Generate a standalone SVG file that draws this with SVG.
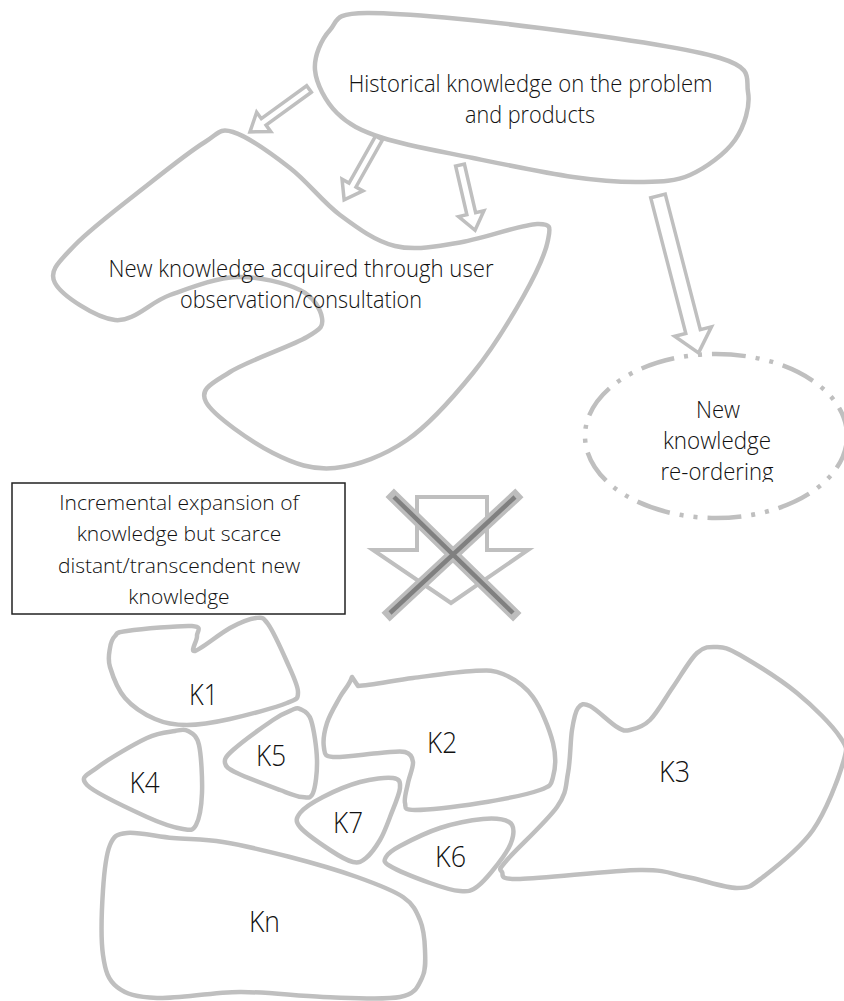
<svg xmlns="http://www.w3.org/2000/svg" width="844" height="1001" viewBox="0 0 844 1001">
<defs>
<style>
.blob{fill:none;stroke:#bfbfbf;stroke-width:4.5;stroke-linejoin:round}
.blk{fill:#fff;stroke:#bfbfbf;stroke-width:3.5;stroke-linejoin:miter}
.t{font-family:"Open Sans",Lato,"Liberation Sans",sans-serif;font-weight:300;fill:#111;text-anchor:middle}
.m{font-size:23px}
.s{font-size:21px}
.k{font-size:29px}
</style>
<clipPath id="clipRe"><rect x="600" y="455" width="220" height="27"/></clipPath>
</defs>
<rect width="844" height="1001" fill="#fff"/>

<g id="historical">
<path class="blob" d="M367,13 C402,12.7 481.2,20.5 540,28 S685.3,47.3 720,58 S745.5,78.3 748,92 S744.7,126.2 735,140 S705.8,168 690,175 S659.5,181.7 640,182 S600.8,181 573,177 S504.7,164.5 473,158 S405.7,145.5 383,138 S348.3,124.3 337,113 S316.2,83.8 315,70 S321.3,39.5 330,30 S332,13.3 367,13 Z"/>
<text class="t m" x="530.5" y="92" textLength="364" lengthAdjust="spacingAndGlyphs">Historical knowledge on the problem</text>
<text class="t m" x="530" y="123" textLength="130" lengthAdjust="spacingAndGlyphs">and products</text>
</g>

<g id="new-knowledge">
<path class="blob" d="M233,132 C247.2,136.3 272.2,154.2 290,168 S322.5,202 340,215 S375.5,241.3 395,246 S433.3,246.7 457,243 S521.8,224.5 537,224 S550.3,227.8 548,240 S535.5,274.8 523,297 S492.3,349.2 473,373 S430,424.2 407,440 S357.3,465.8 335,468 S294.5,464 273,453 S213.2,415.5 206,402 S213.2,382.8 230,372 S291.7,346 307,337 S323.2,325.8 322,318 S314.2,296.8 300,290 S258.7,276.2 237,277 S190.3,287.8 170,295 S134.2,322 115,320 S61.7,295.5 55,283 S59.2,261.7 75,245 S128.3,200.2 150,183 S191.2,150.5 205,142 S218.8,127.7 233,132 Z"/>
<text class="t m" x="301" y="277" textLength="385" lengthAdjust="spacingAndGlyphs">New knowledge acquired through user</text>
<text class="t m" x="301" y="308" textLength="242" lengthAdjust="spacingAndGlyphs">observation/consultation</text>
</g>

<g id="reordering">
<ellipse cx="716" cy="436" rx="131" ry="82" fill="none" stroke="#bfbfbf" stroke-width="4.5" stroke-dasharray="34 10 4 10 4 10"/>
<text class="t m" x="718" y="418" textLength="44" lengthAdjust="spacingAndGlyphs">New</text>
<text class="t m" x="717" y="449" textLength="108" lengthAdjust="spacingAndGlyphs">knowledge</text>
<text class="t m" x="717" y="480" textLength="113" lengthAdjust="spacingAndGlyphs" clip-path="url(#clipRe)">re-ordering</text>
</g>

<g id="incremental-box">
<rect x="12" y="483" width="333" height="131" fill="#fff" stroke="#222" stroke-width="1.5"/>
<text class="t s" x="179" y="510">Incremental expansion of</text>
<text class="t s" x="179" y="541">knowledge but scarce</text>
<text class="t s" x="179" y="573">distant/transcendent new</text>
<text class="t s" x="179" y="604">knowledge</text>
</g>

<g id="crossed-arrow">
<polygon points="417,497 487,497 487,550 528,550 451,603 373,550 417,550" fill="#fff" stroke="#bfbfbf" stroke-width="4" stroke-linejoin="miter"/>
<line x1="394" y1="497" x2="513" y2="613" stroke="#bdbdbd" stroke-width="12" stroke-linecap="square"/>
<line x1="515" y1="497" x2="390" y2="613" stroke="#bdbdbd" stroke-width="12" stroke-linecap="square"/>
<line x1="394" y1="497" x2="513" y2="613" stroke="#808080" stroke-width="4.5"/>
<line x1="515" y1="497" x2="390" y2="613" stroke="#808080" stroke-width="4.5"/>
</g>

<g id="k1">
<path class="blob" d="M127,631 C139.8,629.3 180.3,625.2 192,626 S196.5,631.8 197,636 S189.5,652.3 195,651 S219.8,633.5 230,628 S249.7,618.7 256,618 S262.8,616.7 268,624 S282,650.7 287,662 S298,685.2 298,692 S298.3,698.5 287,703 S246.7,715.3 230,719 S199.5,725 187,725 S165.3,723.5 155,719 S132.5,706.7 125,698 S112.5,675.3 110,667 S109.2,653.2 110,648 S112.2,638.8 115,636 S114.2,632.7 127,631 Z"/>
<text class="t k" x="203.5" y="705" textLength="29" lengthAdjust="spacingAndGlyphs">K1</text>
</g>

<g id="k5">
<path class="blob" d="M300,709 C303.2,710.7 308.2,711.5 311,720 S316.7,747.8 317,760 S315.5,786.8 313,793 S307.5,797.5 302,797 S290.8,794 280,790 S246.2,777.5 237,773 S225.7,766.8 225,763 S225,757.2 233,750 S263.2,726.7 273,720 S287.5,711.8 292,710 S296.8,707.3 300,709 Z"/>
<text class="t k" x="271" y="766" textLength="30" lengthAdjust="spacingAndGlyphs">K5</text>
</g>

<g id="k4">
<path class="blob" d="M188,731 C192,733.3 196.7,734.7 199,745 S202.5,779.7 202,793 S199.2,819 196,825 S191.2,830.3 183,829 S163,824.3 147,817 S95.2,793.3 87,785 S88,774.8 98,767 S134.2,744 147,738 S168.2,732.2 175,731 S184,728.7 188,731 Z"/>
<text class="t k" x="144.5" y="793" textLength="30" lengthAdjust="spacingAndGlyphs">K4</text>
</g>

<g id="k2">
<path class="blob" d="M352,677 L358,686 C370,685.5 393.8,680.5 413,678 S458,671.7 473,671 S493,669.7 503,674 S524.7,685.5 533,697 S549.7,729.7 553,743 S555.2,769.2 553,777 S552.2,785.7 540,790 S500.8,799.7 480,803 S427.5,810 415,810 S406.2,807.5 405,803 S406.7,789.8 408,783 S413.5,767.2 413,762 S410.5,753.5 405,752 S392,752.2 380,753 S342.3,757.8 333,757 S325,753.7 324,748 S324.3,731.5 327,723 S335.8,704.7 340,697 S349,686 352,677 Z"/>
<text class="t k" x="442" y="753" textLength="30" lengthAdjust="spacingAndGlyphs">K2</text>
</g>

<g id="k3">
<path class="blob" d="M717,647 C724.2,647.3 726.7,647.3 740,655 S780.3,679.3 797,693 S832.3,725.3 840,737 S847.5,747.5 843,763 S826.3,811 813,830 S775.7,867.3 763,877 S749.7,888 737,888 S703.2,880 687,877 S667.8,869.7 640,870 S543,878.7 520,879 S504.2,875.2 502,872 S497.8,870.8 507,860 S546.8,821.5 557,807 S565.5,785.8 568,773 S570.3,740.8 572,730 S575,712 578,708 S583.5,702.8 590,706 S610.3,723 617,727 S624.5,731.2 630,730 S642.8,727.2 650,720 S665.2,698.2 673,687 S689.7,659.7 697,653 S709.8,646.7 717,647 Z"/>
<text class="t k" x="674.5" y="782" textLength="31" lengthAdjust="spacingAndGlyphs">K3</text>
</g>

<g id="k7">
<path class="blob" d="M393,778 C399.7,779 400.5,781.5 400,788 S393.3,808.3 390,817 S384,833.2 380,840 S370.5,854.3 366,858 S359,863.3 353,862 S338.8,855.8 330,850 S305,833.2 300,827 S296.2,818 300,813 S313,802.2 323,797 S348.3,785.2 360,782 S386.3,777 393,778 Z"/>
<text class="t k" x="348" y="833" textLength="30" lengthAdjust="spacingAndGlyphs">K7</text>
</g>

<g id="k6">
<path class="blob" d="M509,822 C514,824.8 514,830.2 513,836 S508.8,848.7 503,857 S485.2,880.3 478,886 S468,891.5 460,891 S441.7,887.2 430,883 S397.3,870.3 390,866 S384.3,860.3 386,857 S391,850.8 400,846 S426.2,832.5 440,828 S471.5,820 483,819 S504,819.2 509,822 Z"/>
<text class="t k" x="450.5" y="867" textLength="31" lengthAdjust="spacingAndGlyphs">K6</text>
</g>

<g id="kn">
<path class="blob" d="M127,833 C137.5,831.8 157,836.5 173,838 S203.5,838.8 223,842 S267.7,851.2 290,857 S338.2,870.3 357,877 S392.5,889.8 403,897 S416.3,911.2 420,920 S424.7,940.3 425,950 S426.2,970.2 422,978 S416.5,993.8 400,997 S349.7,997.8 323,997 S267.7,991.8 240,992 S177.5,998.8 157,998 S126,994.2 117,987 S105.3,971.2 103,955 S101.8,908.3 103,890 S106,854.5 110,845 S116.5,834.2 127,833 Z"/>
<text class="t k" x="264.5" y="932" textLength="31" lengthAdjust="spacingAndGlyphs">Kn</text>
</g>

<g id="connectors">
<polygon class="blk" transform="translate(309,89) rotate(144)" points="0,-4 56,-4 56,-12 73,0 56,12 56,4 0,4"/>
<polygon class="blk" transform="translate(379,138) rotate(119.4)" points="0,-4 54,-4 54,-12 71,0 54,12 54,4 0,4"/>
<polygon class="blk" transform="translate(460,165) rotate(77)" points="0,-4.5 50,-4.5 50,-13 67,0 50,13 50,4.5 0,4.5"/>
<polygon class="blk" transform="translate(658,196) rotate(75.5)" points="0,-7.5 140,-7.5 140,-19 162,0 140,19 140,7.5 0,7.5"/>
</g>
</svg>
